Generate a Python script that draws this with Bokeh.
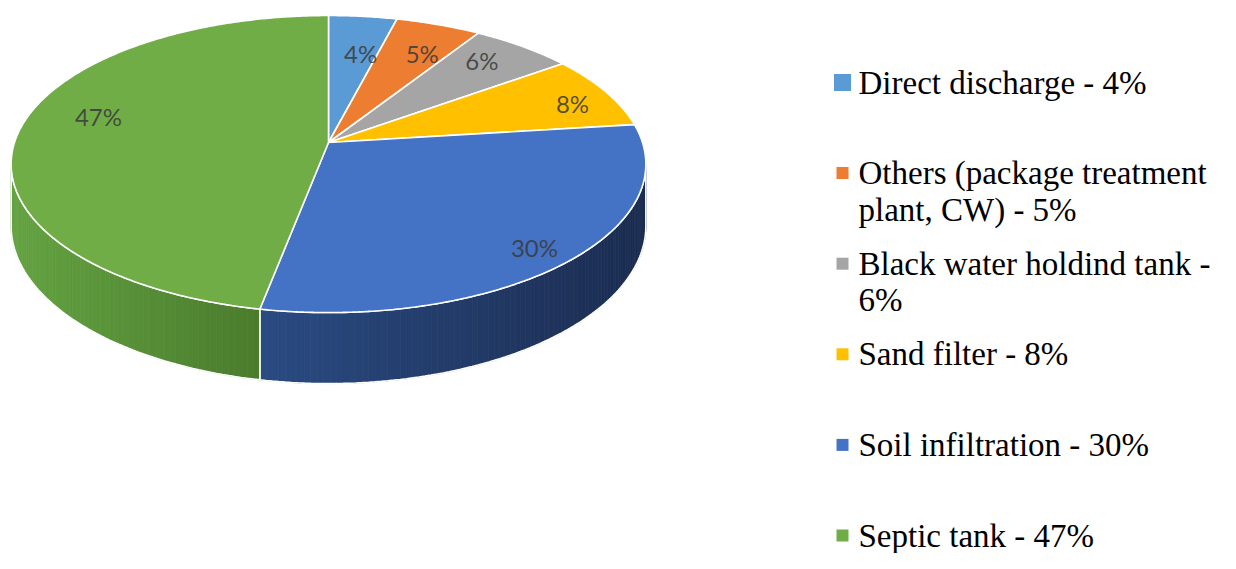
import numpy as np
import textwrap
from bokeh.plotting import figure
from bokeh.models import Range1d
from bokeh.core.properties import value
from bokeh.embed import file_html
from bokeh.resources import INLINE

# ---------------- data ----------------
categories = ["Direct discharge", "Others (package treatment plant, CW)",
              "Black water holdind tank", "Sand filter", "Soil infiltration",
              "Septic tank"]
shares = [4, 5, 6, 8, 30, 47]

# ---------------- styles ----------------
top_colors = ["#5B9BD5", "#ED7D31", "#A5A5A5", "#FFC000", "#4472C4", "#70AD47"]
side_light = ["#4a7db0", "#c4652a", "#878787", "#d6a000", "#2a4b82", "#64a342"]
side_dark = ["#2f5a85", "#96491c", "#666666", "#a67c00", "#1b2c50", "#4a7b2c"]
label_frac = [0.66, 0.64, 0.40, 0.59, 0.51, 0.55]
label_rad = [0.68, 0.75, 0.81, 0.855, 0.885, 0.775]

# projection of the tilted pie (screen pixel units)
CX, CY, RX, AY, PSP, D0 = 328.0, 142.0, 314.0, 145.4, 0.145, 60.7


def proj(theta_deg, f=1.0):
    t = np.radians(theta_deg)
    u = f * np.sin(t)
    v = f * np.cos(t)
    d = 1 + PSP * v
    return CX + RX * u / d, CY - AY * v / d, d


def hex2rgb(h):
    h = h.lstrip("#")
    return np.array([int(h[i:i + 2], 16) for i in (0, 2, 4)], dtype=float)


def lerp_col(c1, c2, t):
    a, b = hex2rgb(c1), hex2rgb(c2)
    c = a + (b - a) * t
    return "#%02x%02x%02x" % tuple(int(round(x)) for x in c)


p = figure(width=1220, height=553, x_range=Range1d(0, 1220), y_range=Range1d(553, 0),
           output_backend="svg", toolbar_location=None,
           x_axis_location=None, y_axis_location=None, min_border=0)
p.grid.visible = False
p.outline_line_color = None
p.background_fill_color = "white"
p.border_fill_color = "white"

total = float(sum(shares))
cum = np.concatenate([[0.0], np.cumsum(shares)]) / total * 360.0

th_r = np.degrees(np.arccos(-PSP))
th_l = 360.0 - th_r

# ---------- side walls ----------
for i in range(len(shares)):
    a0, a1 = max(cum[i], th_r), min(cum[i + 1], th_l)
    if a1 <= a0:
        continue
    n = max(int((a1 - a0) / 1.0), 2)
    ths = np.linspace(a0, a1, n + 1)
    xs, ys, ds = proj(ths)
    bys = ys + D0 / ds
    xmin, xmax = xs.min(), xs.max()
    sx, sy, sc = [], [], []
    for k in range(n):
        sx.append([xs[k], xs[k + 1], xs[k + 1], xs[k]])
        sy.append([ys[k], ys[k + 1], bys[k + 1], bys[k]])
        t = ((xs[k] + xs[k + 1]) / 2 - xmin) / (xmax - xmin)
        sc.append(lerp_col(side_light[i], side_dark[i], t))
    p.patches(sx, sy, fill_color=sc, line_color=sc, line_width=0.8)
    ox = list(xs) + list(xs[::-1])
    oy = list(ys) + list(bys[::-1])
    p.patch(ox, oy, fill_color=None, line_color="white", line_width=1.6)

# ---------- top faces ----------
fx, fy = [], []
for i in range(len(shares)):
    ths = np.linspace(cum[i], cum[i + 1], max(int((cum[i + 1] - cum[i]) / 0.5), 2) + 1)
    xs, ys, _ = proj(ths)
    fx.append([CX] + list(xs))
    fy.append([CY] + list(ys))
p.patches(fx, fy, fill_color=top_colors, line_color="white", line_width=1.6)

# ---------- data labels ----------
lx, ly, lt = [], [], []
for i, s in enumerate(shares):
    th = cum[i] + label_frac[i] * (cum[i + 1] - cum[i])
    x, y, _ = proj(th, label_rad[i])
    lx.append(float(x))
    ly.append(float(y))
    lt.append(f"{s}%")
p.text(lx, ly, text=lt, text_font=value("Lato"), text_font_size="24px",
       text_color="#3a3a3a", text_alpha=0.85, text_align="center",
       text_baseline="middle")

# ---------- legend ----------
first_y = 82.0
step = 90.6
line_h = 36.5
mx, my, ms = [], [], []
tx, ty, tt = [], [], []
for i, (c, s) in enumerate(zip(categories, shares)):
    y0 = first_y + i * step
    lines = textwrap.wrap(f"{c} - {s}%", 26)
    for j, ln in enumerate(lines):
        tx.append(858.0)
        ty.append(y0 + j * line_h)
        tt.append(ln)
    mx.append(842.0)
    my.append(y0)
    ms.append(17 if i == 0 else 12)
p.scatter(mx, my, size=ms, marker="square", fill_color=top_colors, line_color=None)
p.text(tx, ty, text=tt, text_font=value("Liberation Serif"), text_font_size="33px",
       text_color="black", text_align="left", text_baseline="middle")

open("out.html", "w").write(file_html(p, INLINE))
